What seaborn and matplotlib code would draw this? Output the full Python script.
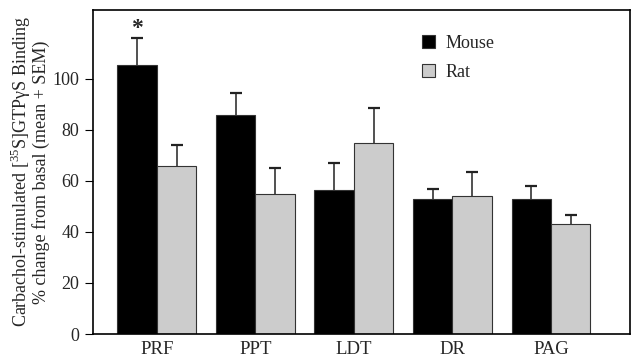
"""Carbachol-stimulated [35S]GTPgS binding, mouse vs rat, as grouped bars."""

import matplotlib

matplotlib.use("Agg")

import matplotlib.pyplot as plt
import pandas as pd
import seaborn as sns
from matplotlib.patches import Patch

regions = ["PRF", "PPT", "LDT", "DR", "PAG"]
mouse_mean = [105.5, 86, 56.5, 53, 53]
mouse_sem = [10.5, 8.5, 10.5, 4, 5]
rat_mean = [66, 55, 75, 54, 43]
rat_sem = [8, 10, 13.5, 9.5, 3.5]
species = ["Mouse", "Rat"]
significant = [("Mouse", "PRF")]

colors = {"Mouse": "#000000", "Rat": "#cccccc"}

df = pd.DataFrame({
    "region": regions * 2,
    "species": ["Mouse"] * len(regions) + ["Rat"] * len(regions),
    "value": mouse_mean + rat_mean,
    "sem": mouse_sem + rat_sem,
})

sns.set_theme(style="ticks")
plt.rcParams["font.family"] = ["Liberation Serif", "DejaVu Serif"]
plt.rcParams["mathtext.fontset"] = "custom"
plt.rcParams["mathtext.rm"] = "Liberation Serif"

fig = plt.figure(figsize=(6.31, 3.58), dpi=100)
ax = fig.add_axes([0.147, 0.067, 0.851, 0.905])

sns.barplot(
    data=df, x="region", y="value", hue="species", order=regions,
    hue_order=species, palette=colors, errorbar=None, width=0.8,
    edgecolor="#333333", linewidth=0.8, legend=False, ax=ax,
)

# error bars (upper only), drawn at each bar's centre
for container, sp in zip(ax.containers, species):
    sub = df[df["species"] == sp].set_index("region").loc[regions]
    for patch, (reg, row) in zip(container, sub.iterrows()):
        cx = patch.get_x() + patch.get_width() / 2
        _, caps, _ = ax.errorbar(cx, row["value"], yerr=[[0], [row["sem"]]], fmt="none",
                                 ecolor="#222222", elinewidth=1.1, capsize=4.5, capthick=1.6)
        caps[0].set_visible(False)
        if (sp, reg) in significant:
            ax.text(cx, row["value"] + row["sem"] - 0.5, "*", ha="center",
                    va="bottom", fontsize=17, fontweight="bold")

ax.set_ylim(0, 127)
ax.set_xlim(-0.65, 4.8)
ax.set_yticks([0, 20, 40, 60, 80, 100])
ax.tick_params(axis="y", direction="out", length=6, width=0.8, labelsize=13, color="black")
ax.tick_params(axis="x", length=0, labelsize=13.5, pad=5)
for s in ax.spines.values():
    s.set_linewidth(1.2)
    s.set_color("black")
ax.set_xlabel("")
ax.set_ylabel("Carbachol-stimulated [$^{35}$S]GTPγS Binding\n% change from basal (mean + SEM)",
              fontsize=13, labelpad=2, linespacing=0.95)

handles = [Patch(facecolor=colors[s], edgecolor="#333333", linewidth=0.8, label=s) for s in species]
ax.legend(handles=handles, loc="upper left", bbox_to_anchor=(0.6, 0.945), frameon=False,
          fontsize=13, handlelength=0.7, handleheight=0.7, handletextpad=0.6,
          labelspacing=0.65, borderaxespad=0)

fig.savefig("out.png", dpi=100)
